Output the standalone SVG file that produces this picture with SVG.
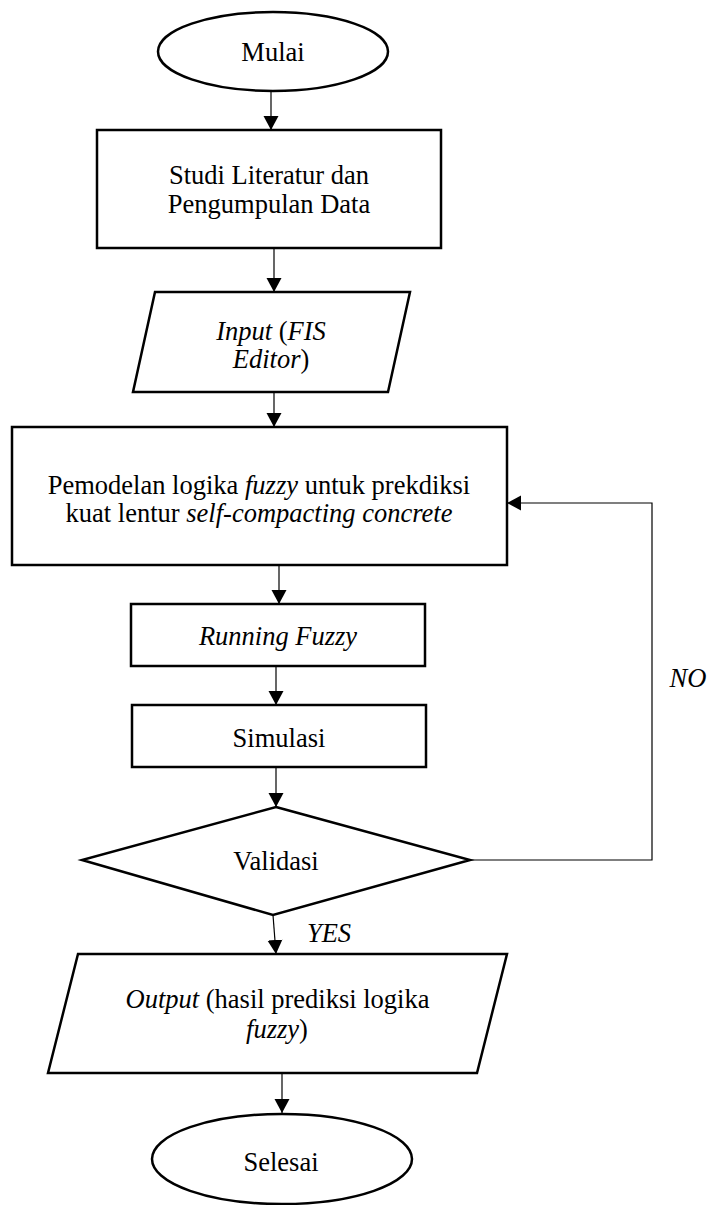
<svg xmlns="http://www.w3.org/2000/svg" width="708" height="1205" viewBox="0 0 708 1205">
<style>
.shape{fill:#fff;stroke:#000;stroke-width:2.5}
.conn{fill:none;stroke:#000;stroke-width:1.2}
text{font-family:"Liberation Serif","Times New Roman",serif;font-size:26.5px;fill:#000;text-anchor:middle}
.it{font-style:italic}
</style>
<defs>
<marker id="ah" markerUnits="userSpaceOnUse" markerWidth="16" markerHeight="16" viewBox="0 0 16 16" refX="14" refY="8" orient="auto">
<path d="M0,0.5 L14,8 L0,15.5 Z" fill="#000"/>
</marker>
</defs>
<rect width="708" height="1205" fill="#fff"/>
<g id="connectors">
<line class="conn" x1="271" y1="91" x2="271" y2="130" marker-end="url(#ah)"/>
<line class="conn" x1="274" y1="248" x2="274" y2="292" marker-end="url(#ah)"/>
<line class="conn" x1="274" y1="392" x2="274" y2="427" marker-end="url(#ah)"/>
<line class="conn" x1="279" y1="565" x2="279" y2="604" marker-end="url(#ah)"/>
<line class="conn" x1="276" y1="666" x2="276" y2="705" marker-end="url(#ah)"/>
<line class="conn" x1="276" y1="767" x2="276" y2="807" marker-end="url(#ah)"/>
<line class="conn" x1="273" y1="915" x2="276" y2="954" marker-end="url(#ah)"/>
<line class="conn" x1="282" y1="1073" x2="282" y2="1113" marker-end="url(#ah)"/>
<polyline class="conn" points="470,860 652,860 652,503 507,503" marker-end="url(#ah)"/>
<text class="it" x="688" y="687">NO</text>
<text class="it" x="329" y="942">YES</text>
</g>
<g id="mulai">
<ellipse class="shape" cx="273" cy="51.5" rx="115" ry="39.5"/>
<text x="273" y="61">Mulai</text>
</g>
<g id="studi">
<rect class="shape" x="97" y="130" width="344" height="118"/>
<text x="269" y="184">Studi Literatur dan</text>
<text x="269" y="213">Pengumpulan Data</text>
</g>
<g id="input">
<polygon class="shape" points="155,292 410,292 388,392 133,392"/>
<text x="271" y="340"><tspan class="it">Input</tspan> (<tspan class="it">FIS</tspan></text>
<text x="271" y="368"><tspan class="it">Editor</tspan>)</text>
</g>
<g id="pemodelan">
<rect class="shape" x="12" y="427" width="495" height="138"/>
<text x="259" y="494">Pemodelan logika <tspan class="it">fuzzy</tspan> untuk prekdiksi</text>
<text x="259" y="522">kuat lentur <tspan class="it">self-compacting concrete</tspan></text>
</g>
<g id="running">
<rect class="shape" x="131" y="604" width="294" height="62"/>
<text class="it" x="278" y="645">Running Fuzzy</text>
</g>
<g id="simulasi">
<rect class="shape" x="132" y="705" width="294" height="62"/>
<text x="279" y="747">Simulasi</text>
</g>
<g id="validasi">
<polygon class="shape" points="276,807 470,860 273,915 82,860"/>
<text x="276" y="870">Validasi</text>
</g>
<g id="output">
<polygon class="shape" points="78,954 507,954 477,1073 48,1073"/>
<text x="277.5" y="1008"><tspan class="it">Output</tspan> (hasil prediksi logika</text>
<text x="277" y="1038"><tspan class="it">fuzzy</tspan>)</text>
</g>
<g id="selesai">
<ellipse class="shape" cx="282" cy="1159" rx="130" ry="45"/>
<text x="281" y="1171">Selesai</text>
</g>
</svg>
